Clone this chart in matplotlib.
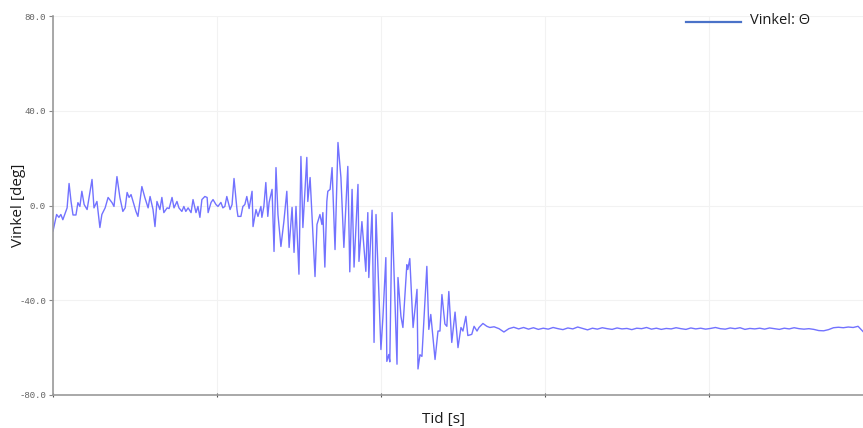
import matplotlib
matplotlib.use("Agg")
from matplotlib import pyplot as plt

# sampled angle log: time [s] and angle [deg]
tid = [
    0.00, 0.11, 0.18, 0.24, 0.30, 0.43, 0.49, 0.55, 0.61, 0.70, 0.76, 0.82, 0.88, 0.95,
    1.04, 1.10, 1.19, 1.25, 1.34, 1.43, 1.49, 1.59, 1.68, 1.80, 1.86, 1.95, 2.04, 2.13,
    2.20, 2.26, 2.32, 2.38, 2.44, 2.53, 2.59, 2.65, 2.71, 2.80, 2.90, 2.96, 3.05, 3.11,
    3.17, 3.26, 3.32, 3.38, 3.48, 3.54, 3.63, 3.69, 3.78, 3.84,
    3.93, 3.99, 4.05, 4.12, 4.21, 4.27, 4.36, 4.42, 4.48, 4.54, 4.63, 4.70, 4.73, 4.82,
    4.88, 4.97, 5.03, 5.12, 5.18, 5.24, 5.30, 5.40, 5.46, 5.52, 5.61, 5.64, 5.73, 5.79,
    5.85, 5.91, 5.98, 6.07, 6.10, 6.19, 6.25, 6.34, 6.37, 6.43, 6.49, 6.55, 6.59, 6.68,
    6.74, 6.80, 6.86, 6.95, 7.04, 7.13, 7.20, 7.29, 7.35, 7.41, 7.50, 7.56,
    7.62, 7.74, 7.77, 7.84, 7.99, 8.05, 8.14, 8.20, 8.23, 8.29, 8.35, 8.38, 8.45, 8.51,
    8.60, 8.69, 8.78, 8.87, 8.99, 9.05, 9.12, 9.18, 9.30, 9.33, 9.42, 9.54, 9.60, 9.63,
    9.73, 9.79, 9.85, 10.00, 10.06, 10.15, 10.18, 10.24,
    10.27, 10.34, 10.49, 10.52, 10.61, 10.67, 10.79, 10.82, 10.88, 10.98, 11.10, 11.13,
    11.19, 11.25, 11.40, 11.46, 11.52, 11.65, 11.74, 11.80, 11.86, 11.95, 12.01, 12.07,
    12.16, 12.26, 12.35, 12.44, 12.50, 12.59, 12.65, 12.77, 12.84, 12.93, 12.99, 13.11,
    13.23, 13.32,
    13.45, 13.60, 13.75, 13.90, 14.05, 14.20, 14.35, 14.50, 14.65, 14.80, 14.95, 15.10,
    15.25, 15.40, 15.55, 15.70, 15.85, 16.00, 16.15, 16.30, 16.45, 16.60, 16.75, 16.90,
    17.05, 17.20, 17.35, 17.50, 17.65, 17.80, 17.95, 18.10, 18.25, 18.40, 18.55, 18.70,
    18.85, 19.00, 19.15, 19.30, 19.45, 19.60, 19.75, 19.90, 20.05, 20.20, 20.35, 20.50,
    20.65, 20.80, 20.95, 21.10, 21.25, 21.40, 21.55, 21.70, 21.85, 22.00, 22.15, 22.30,
    22.45, 22.60, 22.75, 22.90, 23.05, 23.20, 23.35, 23.50, 23.65, 23.80, 23.95, 24.10,
    24.25, 24.40, 24.55, 24.70,
]
vinkel = [
    -10.8, -3.8, -5.0, -3.8, -6.0, -1.0, 9.3, 1.7, -4.0, -4.0, 1.2, -0.4, 6.0, 0.4,
    -1.7, 3.4, 11.0, -1.0, 1.7, -9.3, -3.8, -1.0, 3.4, 1.2, -0.4, 12.2, 3.4, -2.5,
    -1.0, 5.5, 3.4, 4.6, 1.7, -2.5, -4.6, 1.7, 8.0, 3.4, -1.0, 3.8, -1.7, -8.9,
    1.7, -1.7, 3.4, -3.0, -1.0, -1.3, 3.4, -1.0, 1.7, -1.0,
    -2.5, -0.4, -2.5, -1.0, -3.0, 2.5, -3.0, -0.4, -5.0, 2.5, 3.8, 3.4, -3.0, 1.3,
    2.5, 0.4, -0.4, 1.3, -1.0, -0.4, 3.8, -1.7, 0.4, 11.4, -1.7, -4.6, -4.6, -0.4,
    0.4, 3.8, -1.3, 6.0, -8.9, -1.7, -4.6, -0.4, -5.0, -0.4, 9.7, -4.6, 1.3, 6.8,
    -19.4, 16.0, -3.8, -17.3, -6.8, 6.0, -17.7, -0.8, -19.8, -0.4, -29.0, 20.7,
    -9.3, 20.3, 1.7, 11.8, -30.0, -8.0, -3.8, -8.0, -3.0, -26.0, 1.7, 6.0, 6.8, 16.0,
    -18.6, 26.6, 11.8, -17.7, 16.5, -28.0, 6.8, -26.0, 8.9, -23.6, -6.8, -27.8, -3.0, -30.4,
    -2.0, -57.8, -3.8, -60.8, -47.3, -22.0, -65.8, -62.9,
    -66.0, -3.0, -67.0, -30.4, -46.8, -51.5, -25.0, -27.0, -22.4, -51.5, -35.4, -69.0,
    -63.0, -63.7, -25.7, -52.3, -46.0, -65.0, -53.0, -53.0, -37.6, -50.0, -51.0, -36.3,
    -57.8, -45.0, -60.0, -51.5, -53.0, -46.8, -54.9, -54.4, -51.0, -53.0, -51.5, -49.8,
    -51.0, -51.5,
    -51.2, -52.0, -53.4, -52.0, -51.4, -52.1, -51.5, -52.2, -51.6, -52.3, -51.8, -52.2,
    -51.5, -52.0, -52.4, -51.7, -52.1, -51.3, -51.9, -52.5, -51.8, -52.2, -51.6, -52.0,
    -52.3, -51.7, -52.1, -51.9, -52.4, -51.8, -52.0, -51.5, -52.2, -51.8, -52.3, -51.9,
    -52.1, -51.6, -52.0, -52.3, -51.7, -52.1, -51.8, -52.2, -51.9, -51.5, -52.0, -52.2,
    -51.7, -52.0, -51.6, -52.3, -51.9, -52.1, -51.8, -52.2, -51.7, -52.0, -52.3, -51.8,
    -52.1, -51.6, -52.0, -52.2, -52.0, -52.3, -52.8, -52.9, -52.4, -51.6, -51.4, -51.6,
    -51.3, -51.5, -51.0, -53.2,
]
y_ticks = [-80, -40, 0, 40, 80]
x_ticks = [0, 5, 10, 15, 20]

fig = plt.figure(figsize=(8.63, 4.28), dpi=100)
ax = fig.add_axes([53 / 863, 33 / 428, 810 / 863, 379 / 428])

ax.plot(tid, vinkel, color="#7272ff", linewidth=1.0)

ax.set_xlim(0, 24.70)
ax.set_ylim(-80, 80)
ax.set_yticks(y_ticks)
ax.set_yticklabels(["%.1f" % v for v in y_ticks], family="Liberation Mono",
                   fontsize=6.5, color="#606060")
ax.set_xticks(x_ticks)
ax.set_xticklabels([])
ax.tick_params(axis="y", length=3, width=0.8, color="#888888", pad=2)
ax.tick_params(axis="x", length=3, width=0.8, color="#555555", direction="inout")
ax.grid(True, color="#f2f2f2", linewidth=0.8)

for side in ("top", "right"):
    ax.spines[side].set_visible(False)
for side in ("left", "bottom"):
    ax.spines[side].set_color("#9a9a9a")
    ax.spines[side].set_linewidth(1.2)

fig.text(18 / 863, 1 - 205 / 428, "Vinkel [deg]", rotation=90, ha="center", va="center",
         family="Open Sans", fontsize=11, color="#1a1a1a")
fig.text(443 / 863, 1 - 420 / 428, "Tid [s]", ha="center", va="center",
         family="Open Sans", fontsize=11, color="#1a1a1a")

# legend entry drawn in figure coordinates
fig.add_artist(plt.Line2D([686 / 863, 741 / 863], [1 - 22 / 428, 1 - 22 / 428],
                          color="#4a72c8", linewidth=1.6))
fig.text(750 / 863, 1 - 21 / 428, "Vinkel: Θ", ha="left", va="center",
         family="Open Sans", fontsize=10.5, color="#1a1a1a")

fig.savefig("out.png", dpi=100)
